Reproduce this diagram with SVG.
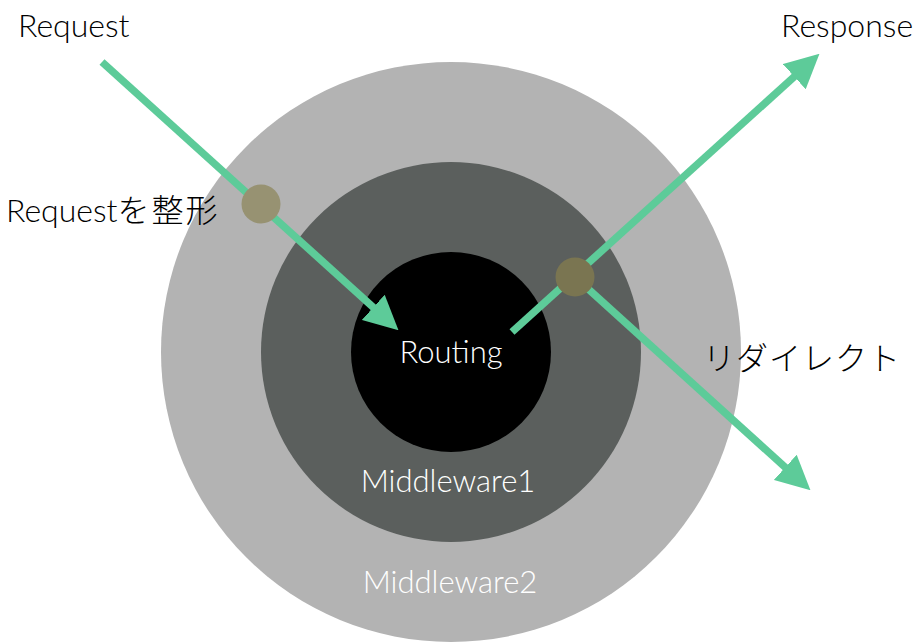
<svg xmlns="http://www.w3.org/2000/svg" width="921" height="643" viewBox="0 0 921 643">
<style>
.lbl{font-family:"Lato","Noto Sans CJK JP",sans-serif;font-weight:300;font-size:32px;fill:#000}
.in{fill:#fff;text-anchor:middle;font-size:31px}
.arr{stroke:#5dcb99;stroke-width:7.5;fill:none;marker-end:url(#ah)}
</style>
<defs>
<marker id="ah" markerUnits="userSpaceOnUse" viewBox="0 -17 34 34" refX="1" refY="0" markerWidth="34" markerHeight="34" orient="auto">
<path d="M0,-17 L34,0 L0,17 z" fill="#5dcb99"/>
</marker>
</defs>
<rect width="921" height="643" fill="#fff"/>
<g id="middleware2">
<circle cx="451" cy="352" r="290" fill="#b3b3b3"/>
<text class="lbl in" x="450" y="593">Middleware2</text>
</g>
<g id="middleware1">
<circle cx="451" cy="352" r="190" fill="#5b5f5d"/>
<text class="lbl in" x="448" y="492">Middleware1</text>
</g>
<g id="routing">
<circle cx="451" cy="352" r="100" fill="#000"/>
<text class="lbl in" x="451" y="363">Routing</text>
</g>
<g id="connectors">
<line class="arr" x1="102" y1="62" x2="374" y2="308"/>
<line class="arr" x1="512" y1="332" x2="795" y2="76"/>
<line class="arr" x1="575" y1="277" x2="786" y2="468"/>
</g>
<g id="request">
<text class="lbl" x="18" y="37">Request</text>
</g>
<g id="response">
<text class="lbl" x="781" y="37">Response</text>
</g>
<g id="format">
<circle cx="261" cy="204" r="19.5" fill="#979272"/>
<text class="lbl" x="6" y="222">Request<tspan style="letter-spacing:2px">を整形</tspan></text>
</g>
<g id="redirect">
<circle cx="575" cy="277" r="19.5" fill="#7a7551"/>
<text class="lbl" x="703" y="370" style="letter-spacing:1px">リダイレクト</text>
</g>
</svg>
